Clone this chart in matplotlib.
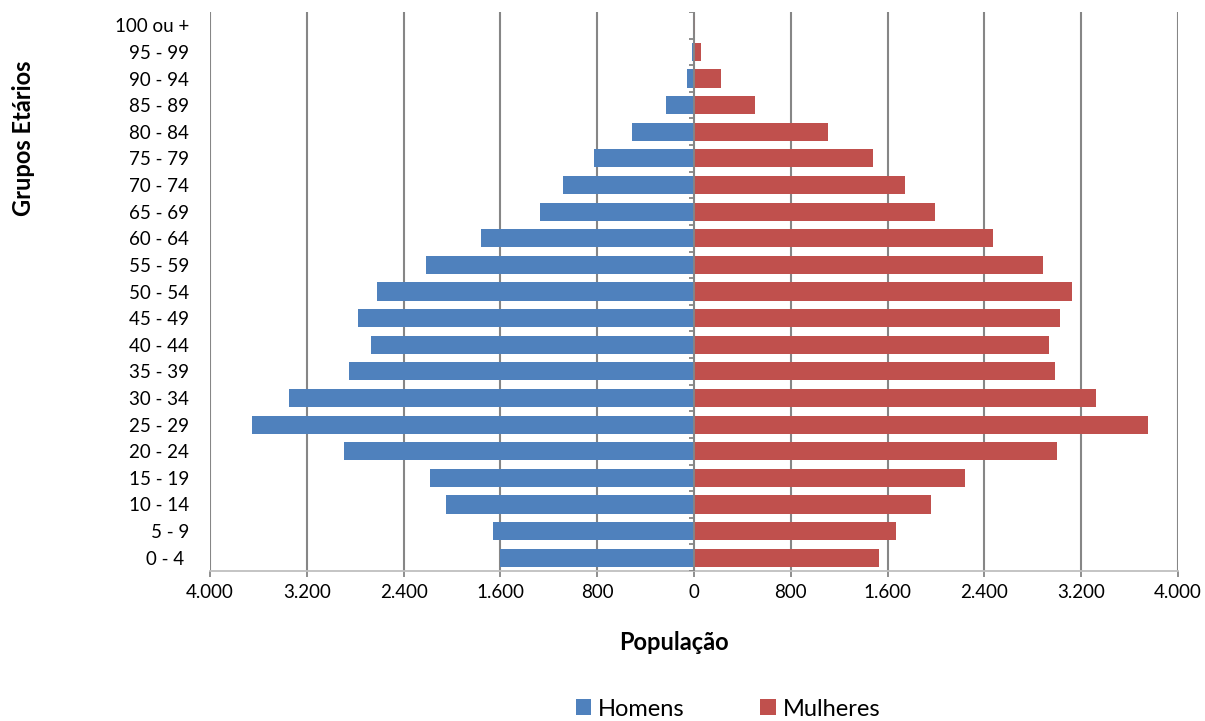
import numpy as np
import matplotlib
matplotlib.use("Agg")
import matplotlib.pyplot as plt

plt.rcParams['font.family'] = ['Lato', 'DejaVu Sans']

# age groups, bottom to top
grupos = ['0 - 4 ', '5 - 9', '10 - 14', '15 - 19', '20 - 24', '25 - 29', '30 - 34',
          '35 - 39', '40 - 44', '45 - 49', '50 - 54', '55 - 59', '60 - 64', '65 - 69',
          '70 - 74', '75 - 79', '80 - 84', '85 - 89', '90 - 94', '95 - 99', '100 ou +']
homens = [1603, 1661, 2050, 2182, 2893, 3655, 3347, 2851, 2669, 2777, 2620,
          2215, 1760, 1273, 1083, 826, 512, 231, 60, 14, 2]
mulheres = [1529, 1669, 1959, 2240, 3000, 3755, 3320, 2980, 2934, 3025, 3124,
            2884, 2471, 1992, 1744, 1479, 1110, 500, 220, 58, 6]
xticks = [-4000, -3200, -2400, -1600, -800, 0, 800, 1600, 2400, 3200, 4000]

azul = '#4F81BD'
vermelho = '#C0504D'
cinza = '#868686'

fig = plt.figure(figsize=(12.05, 7.21), dpi=100)
ax = fig.add_axes([210 / 1205, 1 - 571 / 721, 968 / 1205, 559 / 721])

y = np.arange(len(grupos))
ax.barh(y, -np.array(homens), height=0.68, color=azul, label='Homens', zorder=3)
ax.barh(y, mulheres, height=0.68, color=vermelho, label='Mulheres', zorder=3)

ax.set_xlim(-4000, 4000)
ax.set_ylim(-0.5, len(grupos) - 0.5)

ax.set_xticks(xticks)
ax.set_xticklabels([f"{abs(v):,}".replace(',', '.') for v in xticks], fontsize=13.5)
ax.tick_params(axis='x', length=4, width=1.3, color=cinza, pad=5)
ax.set_yticks(y)
ax.set_yticklabels(grupos, fontsize=13.5)
ax.tick_params(axis='y', length=0, pad=15)

ax.grid(axis='x', color=cinza, linewidth=1.5, zorder=0)
for s in ['top', 'left', 'right']:
    ax.spines[s].set_visible(False)
ax.spines['bottom'].set_color('#BFBFBF')
ax.spines['bottom'].set_linewidth(1.3)

# central category axis with tick marks
ax.axvline(0, color=cinza, linewidth=1.3, zorder=4)
ax.hlines(np.arange(-0.5, len(grupos)), -45, 0, color=cinza, linewidth=1.3, zorder=4)

fig.text(674 / 1205, 1 - 642 / 721, 'População', ha='center', va='center',
         fontsize=17, fontweight='bold')
fig.text(24 / 1205, 1 - 138 / 721, 'Grupos Etários', ha='center', va='center',
         rotation=90, fontsize=17, fontweight='bold')

fig.legend(loc='center', bbox_to_anchor=(728 / 1205, 1 - 709 / 721), ncol=2,
           frameon=False, fontsize=17, handlelength=0.65, handleheight=0.65,
           handletextpad=0.3, columnspacing=3.2)

fig.savefig('out.png', dpi=100)
